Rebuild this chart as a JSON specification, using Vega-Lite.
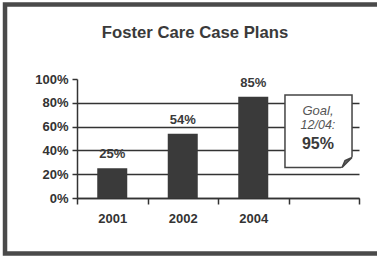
{
  "$schema": "https://vega.github.io/schema/vega-lite/v6.json",
  "width": 282,
  "height": 119,
  "autosize": {"type": "none"},
  "padding": {"left": 77, "top": 79, "right": 18, "bottom": 58},
  "background": "white",
  "title": {"text": "Foster Care Case Plans", "frame": "group", "anchor": "middle", "dx": -23, "offset": -52.5, "baseline": "alphabetic", "font": "Liberation Sans", "fontSize": 16.7, "fontWeight": "bold", "color": "#3a3a3a"},
  "config": {"view": {"stroke": null}, "font": "Liberation Sans"},
  "data": {"values": [
    {"year": "2001", "idx": 0, "pct": 25},
    {"year": "2002", "idx": 1, "pct": 54},
    {"year": "2004", "idx": 2, "pct": 85}
  ]},
  "layer": [
    {
      "data": {"values": [{}]},
      "mark": {"type": "rect", "fill": "transparent", "stroke": "#4a4a4a", "strokeWidth": 4.5},
      "encoding": {
        "x": {"datum": -1.521, "type": "quantitative", "title": null},
        "x2": {"datum": 4.2},
        "y": {"datum": 162.6, "type": "quantitative", "title": null},
        "y2": {"datum": -46.6}
      }
    },
    {
      "mark": {"type": "bar", "width": 30, "color": "#3a3a3a"},
      "encoding": {
        "x": {"field": "idx", "type": "quantitative", "scale": {"domain": [-0.5, 3.5], "nice": false, "zero": false, "padding": 0},
          "axis": {"title": null, "values": [-0.5, 0, 0.5, 1, 1.5, 2, 2.5, 3.5], "tickCount": 10,
            "labelExpr": "datum.value == 0 ? '2001' : datum.value == 1 ? '2002' : datum.value == 2 ? '2004' : ''",
            "grid": false, "domainColor": "#333", "domainWidth": 1.5, "tickColor": "#333", "tickWidth": 1.5, "tickSize": 6,
            "tickOpacity": {"condition": {"test": "datum.value % 1 == 0", "value": 0}, "value": 1},
            "labelPadding": 8, "labelFontSize": 13, "labelFontWeight": "bold", "labelColor": "#333", "labelFont": "Liberation Sans",
            "labelFlush": false, "labelOverlap": false, "labelBound": false}},
        "y": {"field": "pct", "type": "quantitative", "scale": {"domain": [0, 100], "nice": false, "padding": 0},
          "axis": {"title": null, "values": [0, 20, 40, 60, 80, 100], "tickCount": 10, "labelExpr": "datum.value + '%'",
            "grid": true, "gridColor": "#333", "gridWidth": 1.6,
            "gridOpacity": {"condition": {"test": "datum.value == 100", "value": 0}, "value": 1},
            "domainColor": "#333", "domainWidth": 1.5, "tickColor": "#333", "tickWidth": 1.5, "tickSize": 5,
            "labelPadding": 4, "labelFontSize": 13, "labelFontWeight": "bold", "labelColor": "#333", "labelFont": "Liberation Sans",
            "labelOverlap": false, "labelBound": false, "labelFlush": false}}
      }
    },
    {
      "transform": [{"calculate": "datum.pct + '%'", "as": "label"}],
      "mark": {"type": "text", "dy": -10, "baseline": "alphabetic", "font": "Liberation Sans", "fontSize": 13, "fontWeight": "bold", "color": "#3a3a3a"},
      "encoding": {
        "x": {"field": "idx", "type": "quantitative", "title": null},
        "y": {"field": "pct", "type": "quantitative", "title": null},
        "text": {"field": "label"}
      }
    },
    {
      "data": {"values": [{}]},
      "mark": {"type": "rect", "fill": "white", "stroke": "#444", "strokeWidth": 1.5},
      "encoding": {
        "x": {"datum": 2.45, "type": "quantitative", "title": null},
        "x2": {"datum": 3.401},
        "y": {"datum": 86.6, "type": "quantitative", "title": null},
        "y2": {"datum": 25.6}
      }
    },
    {
      "data": {"values": [{}]},
      "mark": {"type": "point", "shape": "M 0.25 -1.25 L 0.25 0.25 L -1.25 0.25 Z", "size": 400, "filled": true, "fill": "white", "fillOpacity": 1, "strokeWidth": 0, "opacity": 1},
      "encoding": {
        "x": {"datum": 3.401, "type": "quantitative", "title": null},
        "y": {"datum": 25.6, "type": "quantitative", "title": null}
      }
    },
    {
      "data": {"values": [{}]},
      "mark": {"type": "point", "shape": "M 0 -1 L -1 0 L -0.7 -0.7 Z", "size": 400, "filled": true, "fill": "#666", "fillOpacity": 1, "stroke": "#444", "strokeWidth": 1.5, "opacity": 1},
      "encoding": {
        "x": {"datum": 3.401, "type": "quantitative", "title": null},
        "y": {"datum": 25.6, "type": "quantitative", "title": null}
      }
    },
    {
      "data": {"values": [{}]},
      "mark": {"type": "text", "text": "Goal,", "baseline": "middle", "font": "Liberation Sans", "fontSize": 13, "fontStyle": "italic", "color": "#555"},
      "encoding": {
        "x": {"datum": 2.918, "type": "quantitative", "title": null},
        "y": {"datum": 73.1, "type": "quantitative", "title": null}
      }
    },
    {
      "data": {"values": [{}]},
      "mark": {"type": "text", "text": "12/04:", "baseline": "middle", "font": "Liberation Sans", "fontSize": 12.5, "fontStyle": "italic", "color": "#555"},
      "encoding": {
        "x": {"datum": 2.918, "type": "quantitative", "title": null},
        "y": {"datum": 61.3, "type": "quantitative", "title": null}
      }
    },
    {
      "data": {"values": [{}]},
      "mark": {"type": "text", "text": "95%", "baseline": "middle", "font": "Liberation Sans", "fontSize": 16, "fontWeight": "bold", "color": "#3a3a3a"},
      "encoding": {
        "x": {"datum": 2.918, "type": "quantitative", "title": null},
        "y": {"datum": 45.4, "type": "quantitative", "title": null}
      }
    }
  ]
}
